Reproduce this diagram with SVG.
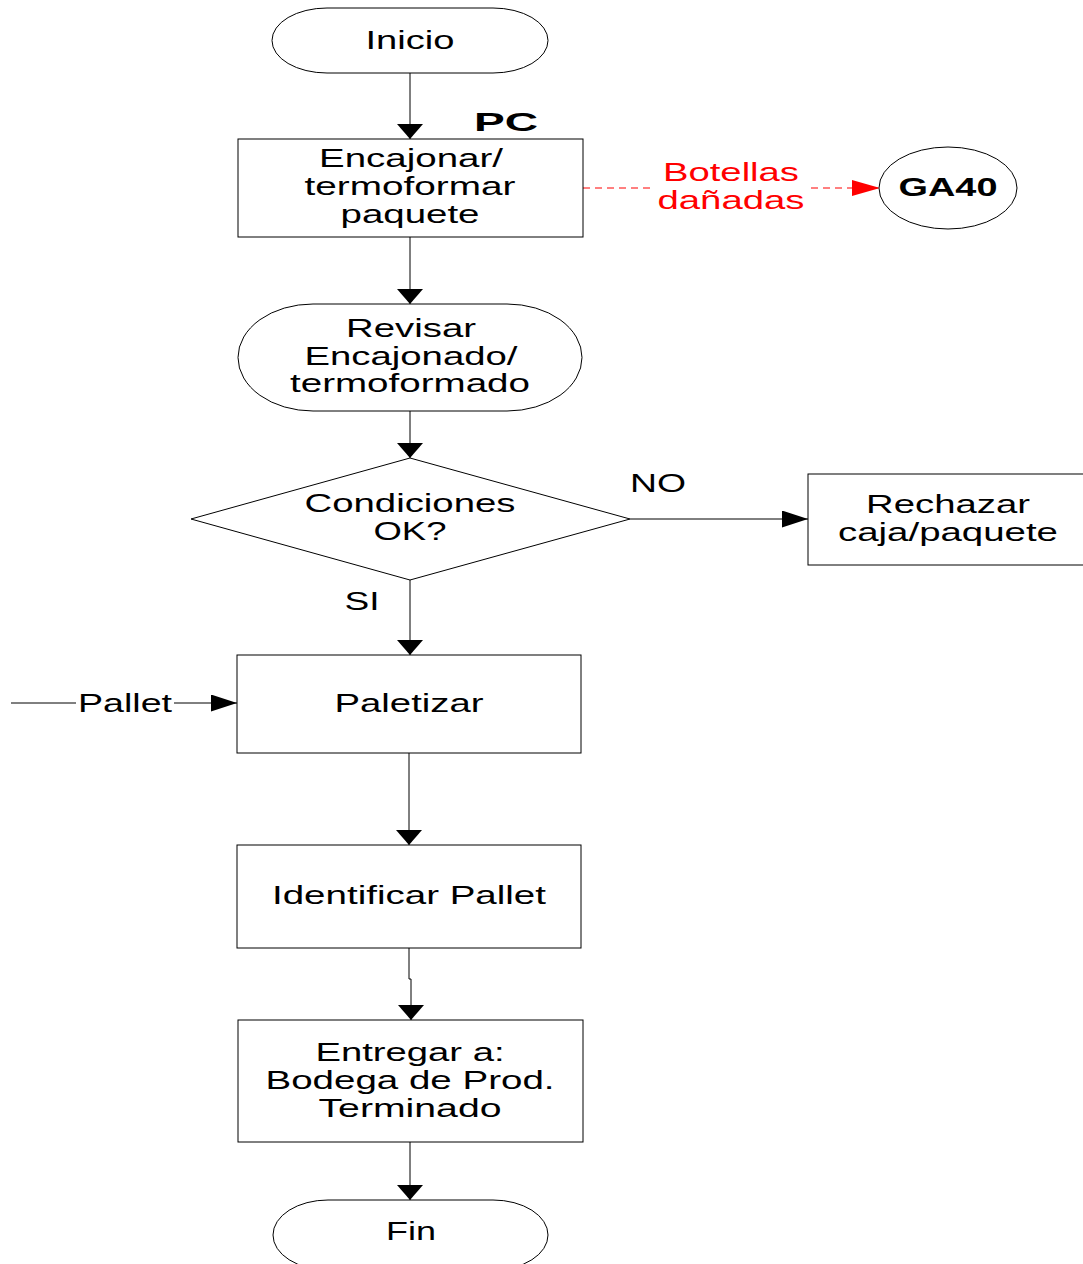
<svg xmlns="http://www.w3.org/2000/svg" width="1083" height="1264" viewBox="0 0 1083 1264">
<style>
.s{fill:#fff;stroke:#000;stroke-width:1}
.t{font-family:"Liberation Sans",Arial,sans-serif;font-size:25px;fill:#000;text-anchor:middle}
.b{font-weight:bold}
.r{fill:#ff0000}
.c{stroke:#000;stroke-width:1;fill:none}
</style>
<defs>
<marker id="ahv" markerUnits="userSpaceOnUse" markerWidth="15" markerHeight="26" refX="15" refY="13" orient="auto" viewBox="0 0 15 26">
<path d="M0,0 L15,13 L0,26 Z" fill="#000"/>
</marker>
<marker id="ahh" markerUnits="userSpaceOnUse" markerWidth="26" markerHeight="17" refX="26" refY="8.5" orient="auto" viewBox="0 0 26 17">
<path d="M0,0 L26,8.5 L0,17 Z" fill="#000"/>
</marker>
<marker id="ahr" markerUnits="userSpaceOnUse" markerWidth="28" markerHeight="16" refX="28" refY="8" orient="auto" viewBox="0 0 28 16">
<path d="M0,0 L28,8 L0,16 Z" fill="#ff0000"/>
</marker>
</defs>
<rect width="1083" height="1264" fill="#fff"/>
<g id="connectors">
<line class="c" x1="410" y1="73" x2="410" y2="139" marker-end="url(#ahv)"/>
<line x1="583" y1="188" x2="880" y2="188" stroke="#ff0000" stroke-width="1" stroke-dasharray="7,5" marker-end="url(#ahr)"/>
<line class="c" x1="410" y1="237" x2="410" y2="304" marker-end="url(#ahv)"/>
<line class="c" x1="410" y1="411" x2="410" y2="458" marker-end="url(#ahv)"/>
<line class="c" x1="630" y1="519" x2="808" y2="519" marker-end="url(#ahh)"/>
<line class="c" x1="410" y1="580" x2="410" y2="655" marker-end="url(#ahv)"/>
<line class="c" x1="11" y1="703" x2="237" y2="703" marker-end="url(#ahh)"/>
<line class="c" x1="409" y1="753" x2="409" y2="845" marker-end="url(#ahv)"/>
<polyline class="c" points="409,948 409,979 411,979 411,1020" marker-end="url(#ahv)"/>
<line class="c" x1="410" y1="1142" x2="410" y2="1200" marker-end="url(#ahv)"/>
<rect x="654" y="160" width="155" height="56" fill="#fff"/>
<text class="t r" x="731" y="181" textLength="136" lengthAdjust="spacingAndGlyphs">Botellas</text>
<text class="t r" x="731" y="209" textLength="147" lengthAdjust="spacingAndGlyphs">dañadas</text>
<rect x="76" y="690" width="98" height="26" fill="#fff"/>
<text class="t" x="125" y="712" textLength="94" lengthAdjust="spacingAndGlyphs">Pallet</text>
<text class="t" x="658" y="492" textLength="56" lengthAdjust="spacingAndGlyphs">NO</text>
<text class="t" x="362" y="610" textLength="35" lengthAdjust="spacingAndGlyphs">SI</text>
</g>
<g id="inicio">
<rect class="s" x="272" y="8" width="276" height="65" rx="55" ry="32.5"/>
<text class="t" x="410" y="49" textLength="89" lengthAdjust="spacingAndGlyphs">Inicio</text>
</g>
<g id="pc">
<text class="t b" x="506" y="131" font-size="30" textLength="64" lengthAdjust="spacingAndGlyphs">PC</text>
</g>
<g id="encajonar">
<rect class="s" x="238" y="139" width="345" height="98"/>
<text class="t" x="411" y="167" textLength="184" lengthAdjust="spacingAndGlyphs">Encajonar/</text>
<text class="t" x="410" y="195" textLength="211" lengthAdjust="spacingAndGlyphs">termoformar</text>
<text class="t" x="410" y="223" textLength="139" lengthAdjust="spacingAndGlyphs">paquete</text>
</g>
<g id="ga40">
<ellipse class="s" cx="948" cy="188" rx="69" ry="41"/>
<text class="t b" x="948" y="196" textLength="99" lengthAdjust="spacingAndGlyphs">GA40</text>
</g>
<g id="revisar">
<rect class="s" x="238" y="304" width="344" height="107" rx="75" ry="53.5"/>
<text class="t" x="411" y="337" textLength="130" lengthAdjust="spacingAndGlyphs">Revisar</text>
<text class="t" x="411" y="365" textLength="213" lengthAdjust="spacingAndGlyphs">Encajonado/</text>
<text class="t" x="410" y="392" textLength="240" lengthAdjust="spacingAndGlyphs">termoformado</text>
</g>
<g id="condiciones">
<polygon class="s" points="410,458 630,519 410,580 191,519"/>
<text class="t" x="410" y="512" textLength="211" lengthAdjust="spacingAndGlyphs">Condiciones</text>
<text class="t" x="410" y="540" textLength="73" lengthAdjust="spacingAndGlyphs">OK?</text>
</g>
<g id="rechazar">
<rect class="s" x="808" y="474" width="280" height="91"/>
<text class="t" x="948" y="513" textLength="164" lengthAdjust="spacingAndGlyphs">Rechazar</text>
<text class="t" x="948" y="541" textLength="220" lengthAdjust="spacingAndGlyphs">caja/paquete</text>
</g>
<g id="paletizar">
<rect class="s" x="237" y="655" width="344" height="98"/>
<text class="t" x="409" y="712" textLength="149" lengthAdjust="spacingAndGlyphs">Paletizar</text>
</g>
<g id="identificar">
<rect class="s" x="237" y="845" width="344" height="103"/>
<text class="t" x="409" y="904" textLength="274" lengthAdjust="spacingAndGlyphs">Identificar Pallet</text>
</g>
<g id="entregar">
<rect class="s" x="238" y="1020" width="345" height="122"/>
<text class="t" x="410" y="1061" textLength="189" lengthAdjust="spacingAndGlyphs">Entregar a:</text>
<text class="t" x="410" y="1089" textLength="289" lengthAdjust="spacingAndGlyphs">Bodega de Prod.</text>
<text class="t" x="410" y="1117" textLength="183" lengthAdjust="spacingAndGlyphs">Terminado</text>
</g>
<g id="fin">
<rect class="s" x="273" y="1200" width="275" height="70" rx="55" ry="35"/>
<text class="t" x="411" y="1240" textLength="50" lengthAdjust="spacingAndGlyphs">Fin</text>
</g>
</svg>
